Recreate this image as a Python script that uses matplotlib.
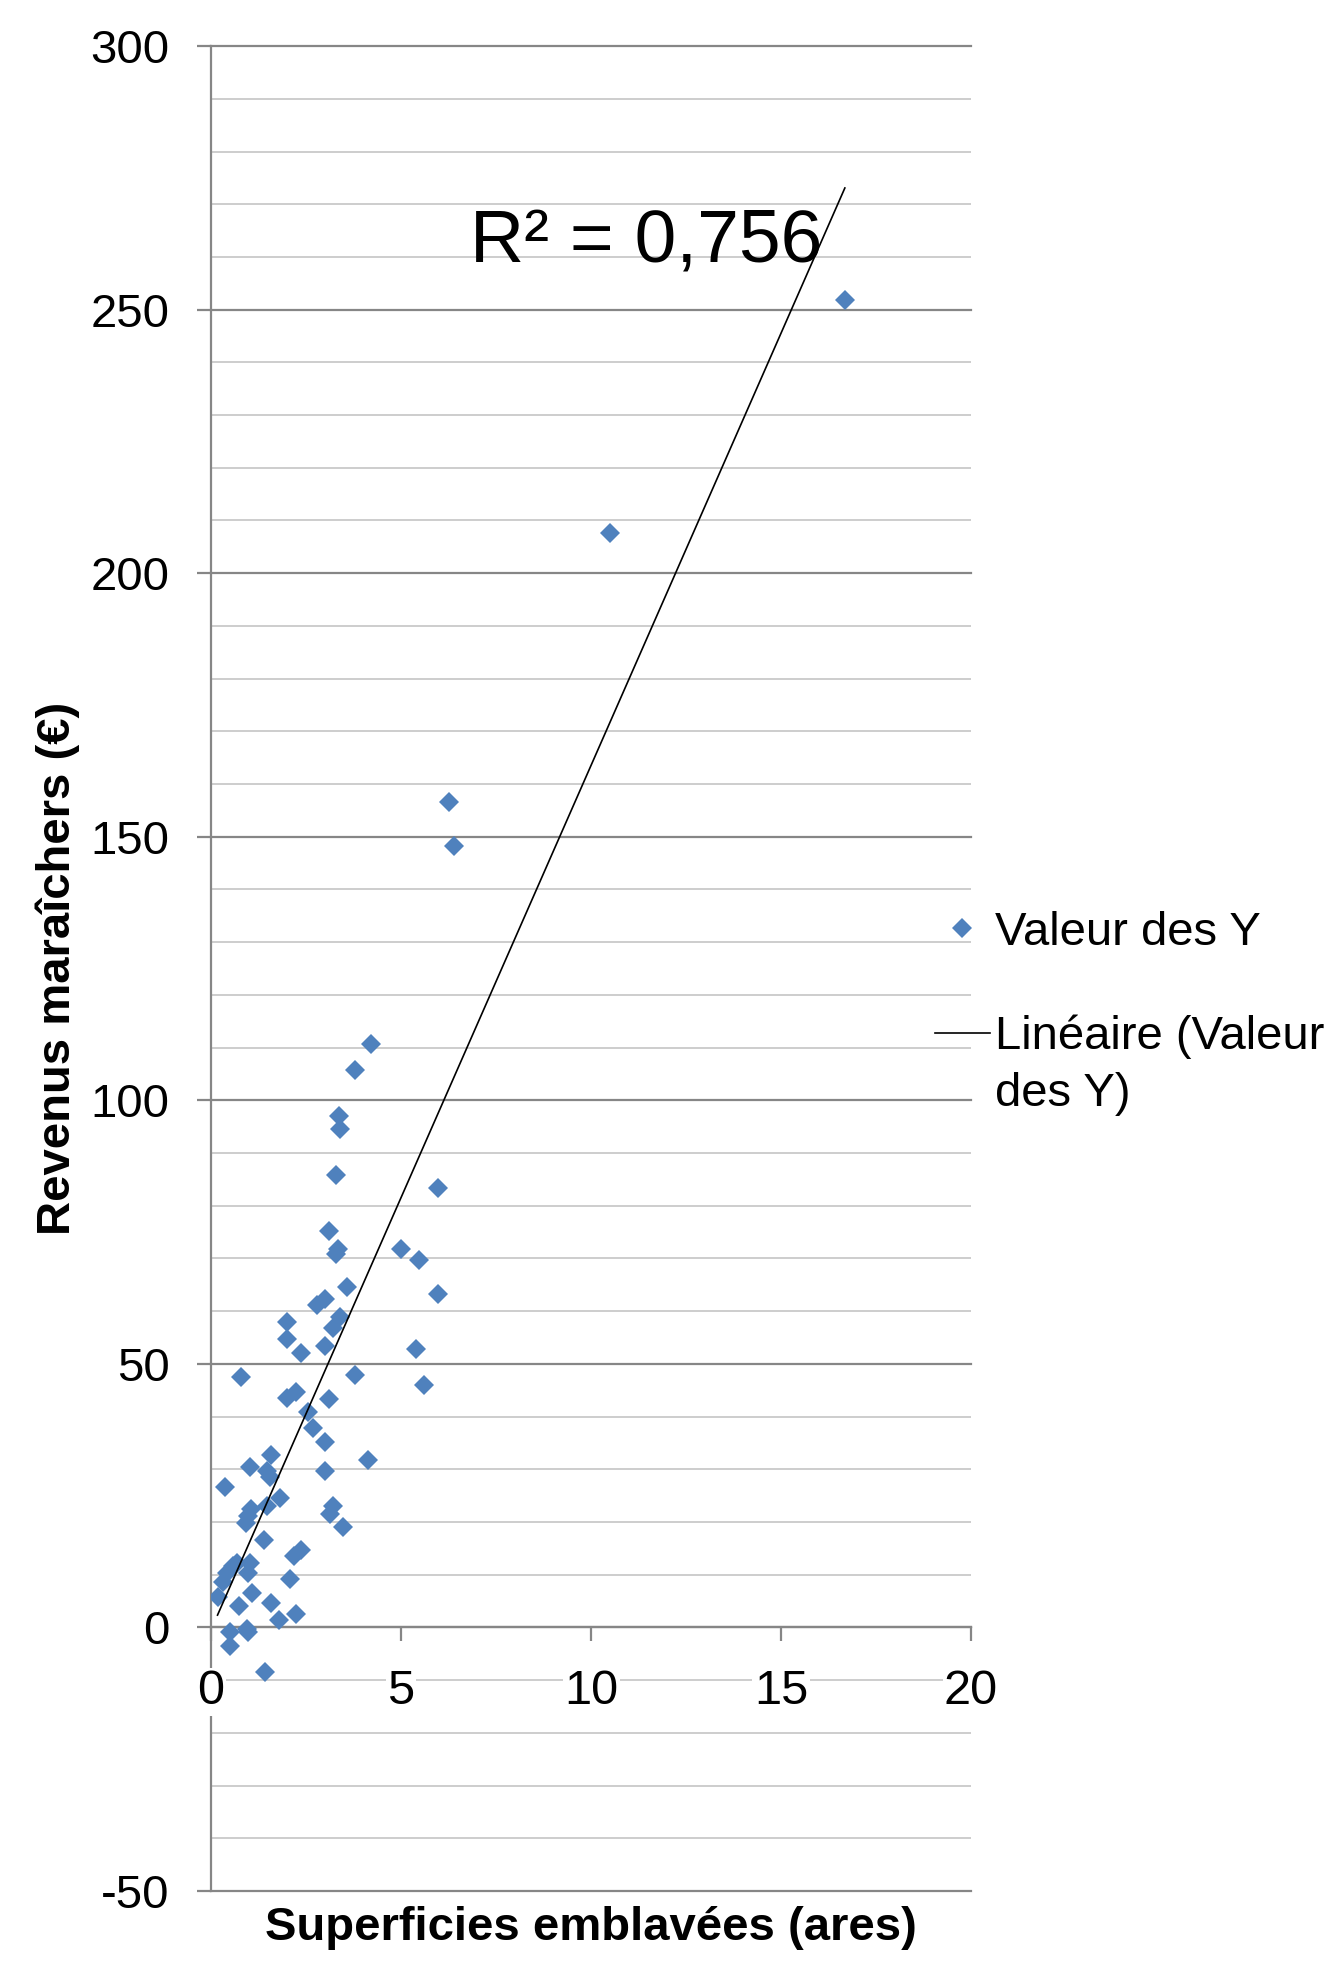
import numpy as np
import matplotlib
matplotlib.use('Agg')
import matplotlib.pyplot as plt
from matplotlib.lines import Line2D

plt.rcParams['font.family'] = ['Liberation Sans', 'DejaVu Sans']
plt.rcParams['axes.unicode_minus'] = False

# superficie (ares) / revenus (euros)
superficie = [16.68, 10.49, 6.26, 6.40, 4.20, 3.78, 3.37, 3.39, 3.28, 5.98,
              3.11, 3.35, 3.28, 4.99, 5.48, 3.58, 5.98, 2.79, 2.99, 3.39,
              3.21, 1.99, 1.99, 2.99, 5.39, 2.38, 0.80, 3.78, 5.60, 2.23,
              1.99, 3.11, 2.55, 2.69, 2.99, 1.57, 4.13, 1.02, 1.46, 1.55,
              2.99, 0.36, 1.81, 1.46, 1.06, 0.98, 0.93, 3.21, 3.12, 3.48,
              1.39, 2.38, 2.18, 0.58, 0.67, 1.02, 0.41, 0.98, 0.32, 2.07,
              1.09, 0.17, 1.57, 0.74, 2.23, 1.79, 0.51, 0.95, 0.98, 0.49,
              1.43]
revenus = [251.8, 207.7, 156.5, 148.2, 110.6, 105.8, 97.0, 94.6, 85.8, 83.4,
           75.3, 71.7, 70.8, 71.7, 69.8, 64.5, 63.3, 61.2, 62.4, 58.8,
           56.9, 57.9, 54.7, 53.4, 52.8, 52.0, 47.6, 47.8, 46.0, 44.7,
           43.5, 43.3, 40.8, 37.8, 35.1, 32.7, 31.8, 30.4, 29.7, 28.5,
           29.7, 26.6, 24.5, 23.1, 22.5, 21.2, 19.9, 23.1, 21.5, 19.0,
           16.6, 14.7, 13.5, 11.7, 12.3, 12.3, 10.4, 10.4, 8.7, 9.2,
           6.6, 5.7, 4.7, 4.0, 2.5, 1.5, -0.9, -0.3, -0.9, -3.5,
           -8.4]
r2_label = 'R² = 0,756'

x = np.array(superficie)
y = np.array(revenus)
pente, origine = np.polyfit(x, y, 1)
xs = np.array([x.min(), x.max()])

bleu = '#4F81BD'
gris = '#868686'
gris_clair = '#CDCDCD'

fig = plt.figure(figsize=(13.24, 19.61), dpi=100)
ax = fig.add_axes([0.1594, 0.0357, 0.5740, 0.9408])

ax.plot(x, y, 'D', color=bleu, markersize=10.5, markeredgewidth=0, zorder=3)
ax.plot(xs, pente * xs + origine, color='black', lw=1.2, zorder=4)

ax.set_xlim(0, 20)
ax.set_ylim(-50, 300)
ax.set_xticks([0, 5, 10, 15, 20])
ax.set_yticks(np.arange(-50, 301, 50))
ax.set_yticks(np.arange(-50, 301, 10), minor=True)

ax.grid(which='major', axis='y', color=gris, lw=1.6)
ax.grid(which='minor', axis='y', color=gris_clair, lw=1.4)
for gl in ax.get_ygridlines():
    gl.set_clip_on(False)

ax.spines['top'].set_visible(False)
ax.spines['right'].set_visible(False)
ax.spines['left'].set_color(gris)
ax.spines['left'].set_linewidth(1.6)
ax.spines['bottom'].set_position(('data', 0))
ax.spines['bottom'].set_color(gris)
ax.spines['bottom'].set_linewidth(1.6)

ax.tick_params(axis='y', which='major', length=10, width=1.6, color=gris,
               labelsize=34, pad=20)
ax.tick_params(axis='y', which='minor', length=0)
ax.tick_params(axis='x', length=10, width=1.6, color=gris, labelsize=35, pad=20)
# les étiquettes de l'axe X masquent le quadrillage
ax.xaxis.set_zorder(2.7)
for lab in ax.get_xticklabels():
    lab.set_bbox(dict(facecolor='white', edgecolor='none', pad=1))

ax.set_xlabel('Superficies emblavées (ares)', fontsize=34, fontweight='bold')
ax.set_ylabel('Revenus maraîchers (€)', fontsize=34, fontweight='bold')
ax.xaxis.set_label_coords(0.5, -0.008)
ax.yaxis.set_label_coords(-0.173, 0.5)

ax.text(6.81, 259.1, r2_label, fontsize=54, va='baseline', ha='left', zorder=5)

handles = [Line2D([], [], ls='none', marker='D', color=bleu, markersize=10.5, markeredgewidth=0),
           Line2D([], [], color='black', lw=1.2)]
leg = ax.legend(handles, ['Valeur des Y', 'Linéaire (Valeur\ndes Y)'],
                loc='upper left', bbox_to_anchor=(0.706, 0.5355),
                bbox_transform=fig.transFigure, frameon=False, fontsize=34,
                handlelength=1.17, handletextpad=0.1, borderpad=0,
                borderaxespad=0, labelspacing=1.27)
for t in leg.get_texts():
    t.set_linespacing(1.38)
# trait de la tendance aligné sur la première ligne du libellé
trait = leg.legend_handles[1]
trait.set_ydata(np.asarray(trait.get_ydata()) + 0.69 * 34)

fig.savefig('out.png', dpi=100)
